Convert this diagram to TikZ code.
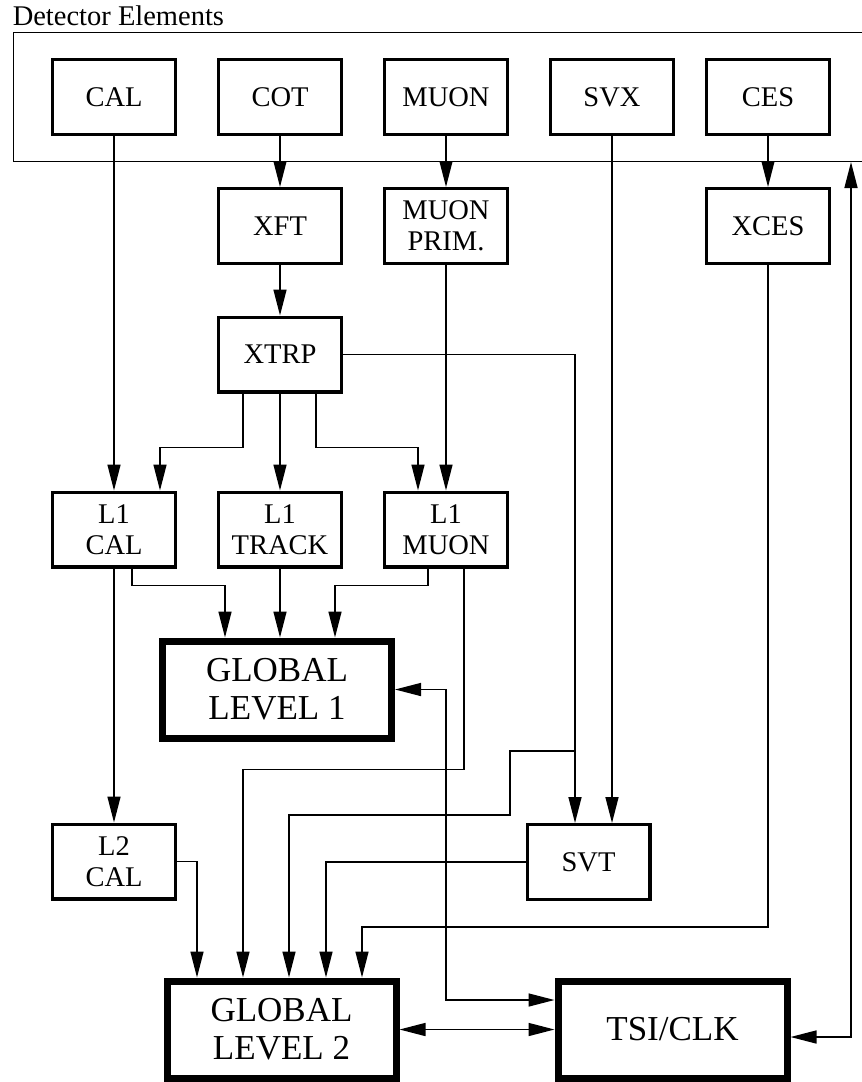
\documentclass[tikz,border=0pt]{standalone}
\usepackage{fontspec}
\setmainfont{Liberation Serif}
\usetikzlibrary{arrows.meta,calc}
\tikzset{>={Triangle[length=26pt,width=13pt]}}
\tikzset{unit/.style={draw, line width=3.3pt, minimum width=122.7pt, minimum height=74.7pt, inner sep=0pt, align=center, font=\fontsize{28.5}{31}\selectfont},
  bigunit/.style={draw, line width=7pt, minimum width=229pt, minimum height=97pt, inner sep=0pt, align=center, font=\fontsize{35}{38}\selectfont}}

\begin{document}
\begin{tikzpicture}[x=1pt, y=-1pt, line width=1.5pt, node distance=166pt]
        \useasboundingbox (0,0) rectangle (862,1082);
        \clip (0,0) rectangle (862,1082);
        \node[anchor=base west, inner sep=0pt, font=\fontsize{28.5}{31}\selectfont] (title) at (12,25) {Detector Elements};
        \node[draw, line width=1.3pt, anchor=north west, minimum width=900pt, minimum height=128.7pt, inner sep=0pt] (det) at (13,32) {}; %runs off the right edge
        \node[unit] (cal) at (114,97) {CAL};
        \node[unit] (cot) [right of=cal] {COT};
        \node[unit] (muon) [right of=cot] {MUON};
        \node[unit] (svx) [right of=muon] {SVX};
        \node[unit] (ces) [right of=svx, node distance=156pt] {CES};
        \node[unit] (xft) [below of=cot, node distance=129pt] {XFT};
        \node[unit] (mprim) [below of=muon, node distance=129pt] {MUON\\PRIM.};
        \node[unit] (xces) [below of=ces, node distance=129pt] {XCES};
        \node[unit] (xtrp) [below of=xft, node distance=128.5pt] {XTRP};
        \node[unit] (l1trk) [below of=xtrp, node distance=175pt] {L1\\TRACK};
        \node[unit] (l1cal) [left of=l1trk] {L1\\CAL};
        \node[unit] (l1mu) [right of=l1trk] {L1\\MUON};
        \node[bigunit] (gl1) at (277,689.5) {GLOBAL\\LEVEL 1};
        \node[unit] (l2cal) at (114,861.5) {L2\\CAL};
        \node[unit] (svt) at (588.5,862) {SVT};
        \node[bigunit] (gl2) at (281.5,1029.5) {GLOBAL\\LEVEL 2};
        \node[bigunit] (tsi) at (672.5,1029.5) {TSI/CLK};
        \coordinate (br) at (575,751);

        \path[->]
        (cal) edge (l1cal)
        (cot) edge (xft)
        (muon) edge (mprim)
        (ces) edge (xces)
        (xft) edge (xtrp)
        (xtrp) edge (l1trk)
        (mprim) edge (l1mu)
        (l1cal) edge (l2cal);

        \draw[->] (svx) -- (svx |- svt.north);
        \draw[->] (l1trk.south) -- (l1trk.south |- gl1.north);
        \draw[->] ([xshift=-37pt]xtrp.south) -- ++(0,54) -| ([xshift=46pt]l1cal.north);
        \draw[->] ([xshift=36pt]xtrp.south) -- ++(0,54) -| ([xshift=-28pt]l1mu.north);
        \draw[->] (xtrp.east) -| ([xshift=-13.5pt]svt.north);
        \draw[->] (br) -- ++(-65,0) -- ++(0,64) -| ([xshift=7.5pt]gl2.north); % branch off the XTRP line
        \draw[->] ([xshift=18pt]l1cal.south) -- ++(0,17) -| ([xshift=-52pt]gl1.north);
        \draw[->] ([xshift=-18pt]l1mu.south) -- ++(0,17) -| ([xshift=58pt]gl1.north);
        \draw[->] ([xshift=18pt]l1mu.south) -- ++(0,201) -| ([xshift=-38.5pt]gl2.north);
        \draw[->] (l2cal.east) -| ([xshift=-84.5pt]gl2.north);
        \draw[->] (svt.west) -| ([xshift=44.5pt]gl2.north);
        \draw[->] (xces.south) -- ++(0,662) -| ([xshift=80.5pt]gl2.north);
        \draw[<->] (gl1.east) -- ++(51,0) |- ([yshift=29.5pt]tsi.west);
        \draw[<->] (gl2) -- (tsi);
        \draw[<->] ([yshift=-7.5pt]tsi.east) -| (det.south -| 851,0);
      \end{tikzpicture}
\end{document}
